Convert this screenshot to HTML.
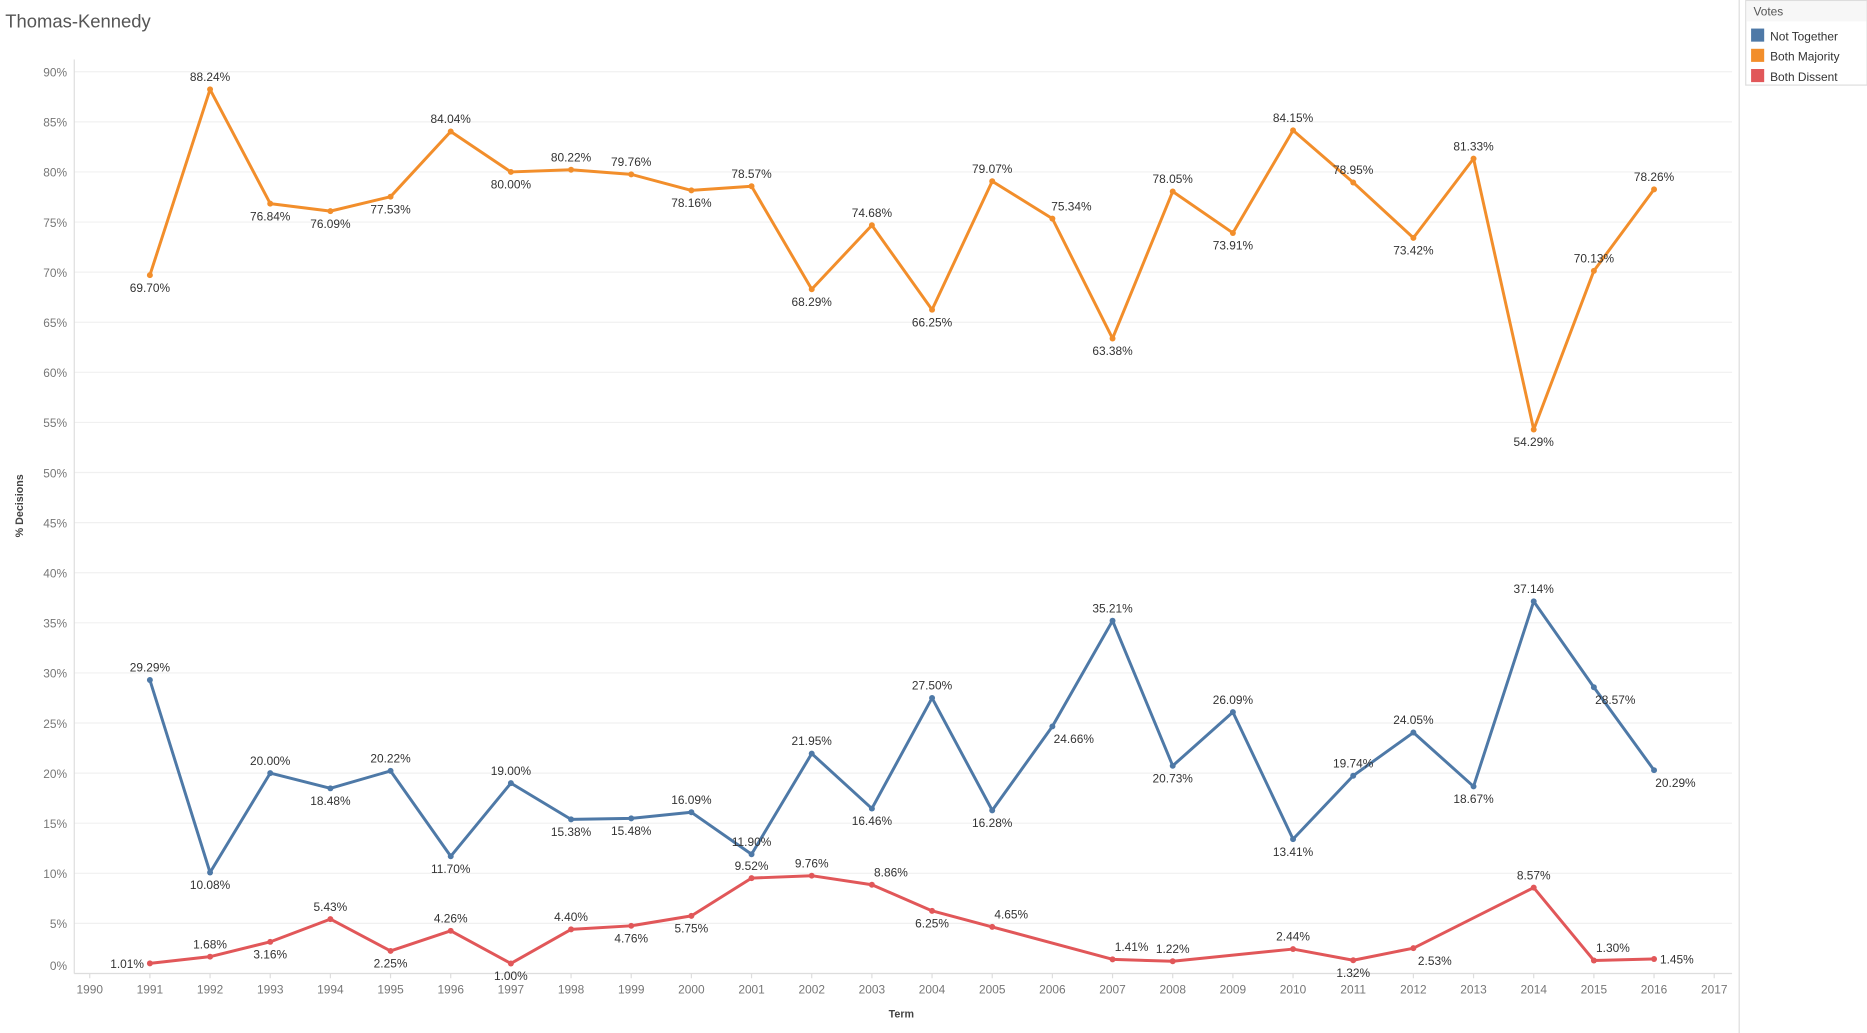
<!DOCTYPE html>
<html><head><meta charset="utf-8"><style>
html,body{margin:0;padding:0;background:#fff;}
svg{display:block;font-family:"Liberation Sans",sans-serif;}
</style></head><body>
<svg id="s" width="1867" height="1033" viewBox="0 0 1568 868" xmlns="http://www.w3.org/2000/svg">
<rect width="1568" height="868" fill="#fff"/>
<text x="4" y="23" font-size="15.5" fill="#555">Thomas-Kennedy</text>
<line x1="1461" y1="0" x2="1461" y2="868" stroke="#ddd"/>
<rect x="1466.5" y="0.5" width="102" height="71" fill="#fff" stroke="#ddd"/>
<rect x="1467" y="1" width="101" height="17" fill="#f7f7f7"/>
<text x="1473" y="13" font-size="10" fill="#555">Votes</text>
<rect x="1471" y="24" width="11" height="11" fill="#4e79a7"/><text x="1487" y="34" font-size="10" fill="#333">Not Together</text>
<rect x="1471" y="41" width="11" height="11" fill="#f28e2b"/><text x="1487" y="51" font-size="10" fill="#333">Both Majority</text>
<rect x="1471" y="58" width="11" height="11" fill="#e15759"/><text x="1487" y="68" font-size="10" fill="#333">Both Dissent</text>
<text transform="translate(19,425) rotate(-90)" font-size="9" font-weight="bold" fill="#444" text-anchor="middle">% Decisions</text>
<text x="757" y="855" font-size="9" font-weight="bold" fill="#444" text-anchor="middle">Term</text>
<g id="g"></g>
</svg>
<script>
const g=document.getElementById('g');let h='';
const X=y=>75+(y-1990)*50.556, Y=v=>818-v*8.419;
for(let p=0;p<=90;p+=5){const y=Y(p);h+=`<line x1="62" y1="${y}" x2="1455" y2="${y}" stroke="#f0f0f0"/><text x="56" y="${p==0?815:y+4}" font-size="10" fill="#777" text-anchor="end">${p}%</text>`;}
h+=`<line x1="62" y1="818" x2="1455" y2="818" stroke="#ddd"/><line x1="62" y1="50" x2="62" y2="818" stroke="#ddd"/>`;
for(let y=1990;y<=2017;y++){h+=`<line x1="${X(y)}" y1="818" x2="${X(y)}" y2="822" stroke="#ddd"/><text x="${X(y)}" y="835" font-size="10" fill="#777" text-anchor="middle">${y}</text>`;}
function series(d,pos,c){let pts=[];d.forEach((v,i)=>{if(v!==null)pts.push([X(1991+i),Y(v),v,pos[i]]);});
h+=`<polyline fill="none" stroke="${c}" stroke-width="2.5" stroke-linejoin="round" points="${pts.map(p=>p[0]+','+p[1]).join(' ')}"/>`;
pts.forEach(p=>{h+=`<circle cx="${p[0]}" cy="${p[1]}" r="2.5" fill="${c}"/>`;let x=p[0],y=p[1],a='middle';
const o=p[3];if(o=='a')y-=7;else if(o=='b')y+=14;else if(o=='r'){x+=16;y-=7;}else if(o=='rb'){x+=18;y+=14;}else if(o=='l'){x-=5;y+=4;a='end';}else if(o=='R'){x+=5;y+=4;a='start';}
h+=`<text x="${x}" y="${y}" font-size="10" fill="#333" text-anchor="${a}">${p[2].toFixed(2)}%</text>`;});}
series([69.70,88.24,76.84,76.09,77.53,84.04,80.00,80.22,79.76,78.16,78.57,68.29,74.68,66.25,79.07,75.34,63.38,78.05,73.91,84.15,78.95,73.42,81.33,54.29,70.13,78.26],
'b a b b b a b a a b a b a b a r b a b a a b a b a a'.split(' '),'#f28e2b');
series([29.29,10.08,20.00,18.48,20.22,11.70,19.00,15.38,15.48,16.09,11.90,21.95,16.46,27.50,16.28,24.66,35.21,20.73,26.09,13.41,19.74,24.05,18.67,37.14,28.57,20.29],
'a b a b a b a b b a a a b a b rb a b a b a a b a rb rb'.split(' '),'#4e79a7');
series([1.01,1.68,3.16,5.43,2.25,4.26,1.00,4.40,4.76,5.75,9.52,9.76,8.86,6.25,4.65,null,1.41,1.22,null,2.44,1.32,2.53,null,8.57,1.30,1.45],
'l a b a b a b a b b a a r b r - r a - a b rb - a r R'.split(' '),'#e15759');
g.innerHTML=h;
</script>
</body></html>
